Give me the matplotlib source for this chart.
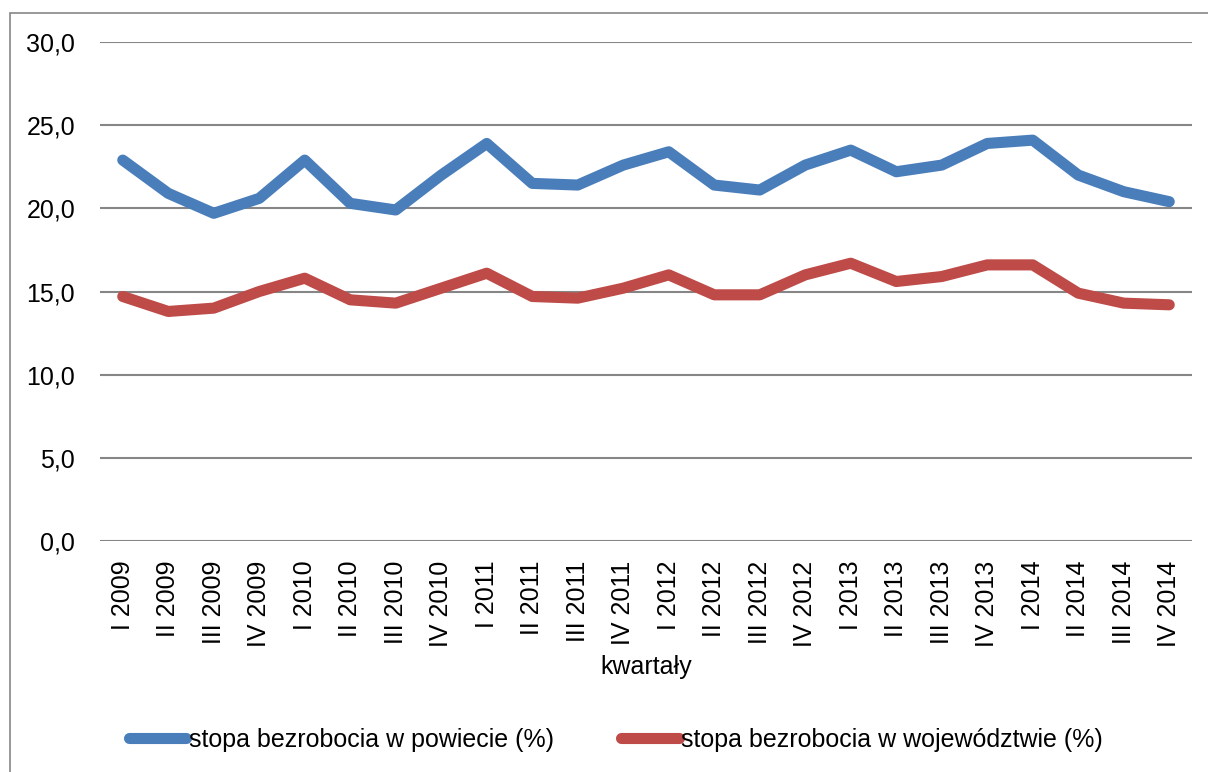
import matplotlib.pyplot as plt
from matplotlib.patches import Rectangle
from matplotlib.font_manager import fontManager

quarters = ["I 2009", "II 2009", "III 2009", "IV 2009",
            "I 2010", "II 2010", "III 2010", "IV 2010",
            "I 2011", "II 2011", "III 2011", "IV 2011",
            "I 2012", "II 2012", "III 2012", "IV 2012",
            "I 2013", "II 2013", "III 2013", "IV 2013",
            "I 2014", "II 2014", "III 2014", "IV 2014"]

powiat = [22.9, 20.9, 19.7, 20.6, 22.9, 20.3, 19.9, 22.0,
          23.9, 21.5, 21.4, 22.6, 23.4, 21.4, 21.1, 22.6,
          23.5, 22.2, 22.6, 23.9, 24.1, 22.0, 21.0, 20.4]

wojewodztwo = [14.7, 13.8, 14.0, 15.0, 15.8, 14.5, 14.3, 15.2,
               16.1, 14.7, 14.6, 15.2, 16.0, 14.8, 14.8, 16.0,
               16.7, 15.6, 15.9, 16.6, 16.6, 14.9, 14.3, 14.2]

yticks = [0, 5, 10, 15, 20, 25, 30]

names = {f.name for f in fontManager.ttflist}
font = "Liberation Sans Narrow" if "Liberation Sans Narrow" in names else "Liberation Sans"
plt.rcParams["font.family"] = [font, "DejaVu Sans"]

fig = plt.figure(figsize=(12.08, 7.72), dpi=100)
ax = fig.add_axes([100 / 1208, 1 - 541 / 772, 1092 / 1208, 499 / 772])

x = range(len(quarters))
ax.plot(x, powiat, color="#4a7ebb", linewidth=8, solid_capstyle="round",
        solid_joinstyle="round", label="stopa bezrobocia w powiecie (%)")
ax.plot(x, wojewodztwo, color="#be4b48", linewidth=8, solid_capstyle="round",
        solid_joinstyle="round", label="stopa bezrobocia w województwie (%)")

ax.set_xlim(-0.5, len(quarters) - 0.5)
ax.set_ylim(0, 30)
ax.set_yticks(yticks)
ax.set_yticklabels([f"{v:.1f}".replace(".", ",") for v in yticks], fontsize=18)
ax.set_xticks(list(x))
ax.set_xticklabels(quarters, rotation=90, fontsize=18)
ax.tick_params(length=0)
ax.tick_params(axis="x", pad=14)
ax.tick_params(axis="y", pad=18)
ax.grid(axis="y", color="#868686", linewidth=1.5)
ax.set_axisbelow(True)
for s in ax.spines.values():
    s.set_visible(False)

ax.set_xlabel("kwartały", fontsize=18, labelpad=6)

fig.legend(loc="center", bbox_to_anchor=(616 / 1208, 1 - 740 / 772), ncol=2,
           frameon=False, fontsize=18, handlelength=2.3, handletextpad=0.1,
           columnspacing=2.7)

fig.patches.append(Rectangle((10 / 1208, -0.05), 1.2, 1.05 - 13 / 772,
                             transform=fig.transFigure, fill=False,
                             edgecolor="#868686", linewidth=1.2))

fig.savefig("out.png", dpi=100)
